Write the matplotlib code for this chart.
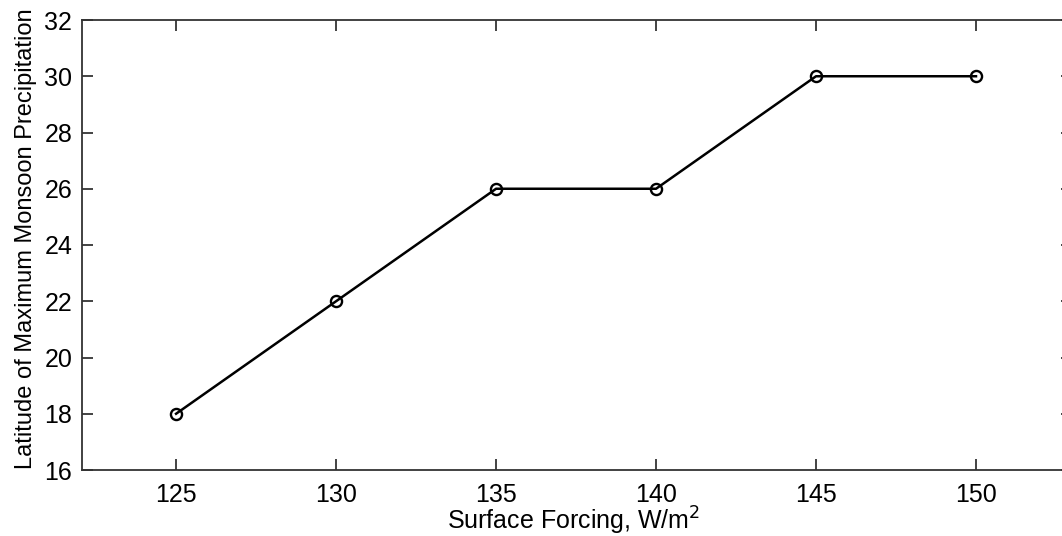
import matplotlib
matplotlib.use("Agg")
import matplotlib.pyplot as plt

forcing = [125, 130, 135, 140, 145, 150]
latitude = [18, 22, 26, 26, 30, 30]
x_ticks = [125, 130, 135, 140, 145, 150]
y_ticks = [16, 18, 20, 22, 24, 26, 28, 30, 32]

plt.rcParams['font.family'] = ['Liberation Sans', 'DejaVu Sans']

fig = plt.figure(figsize=(10.62, 5.36), dpi=100)
ax = fig.add_axes([82 / 1062, 66 / 536, 990 / 1062, 450 / 536])

ax.plot(forcing, latitude, color='black', linewidth=1.8,
        marker='o', markersize=8, markerfacecolor='none',
        markeredgecolor='black', markeredgewidth=1.7)

ax.set_xlim(122.06, 153)
ax.set_ylim(16, 32)
ax.set_xticks(x_ticks)
ax.set_yticks(y_ticks)
ax.tick_params(direction='in', length=8, width=1.2, top=True, right=True,
               labelsize=18, colors='#222222', labelcolor='black')
ax.tick_params(axis='x', pad=9)
ax.tick_params(axis='y', pad=7)
for sp in ax.spines.values():
    sp.set_linewidth(1.3)
    sp.set_color('#333333')

ax.set_xlabel('Surface Forcing, W/m$^2$', fontsize=18)
ax.xaxis.set_label_coords(0.497, -0.078)
ax.set_ylabel('Latitude of Maximum Monsoon Precipitation', fontsize=17)
ax.yaxis.set_label_coords(-0.045, 0.515)

fig.savefig('out.png', dpi=100, facecolor='white')
